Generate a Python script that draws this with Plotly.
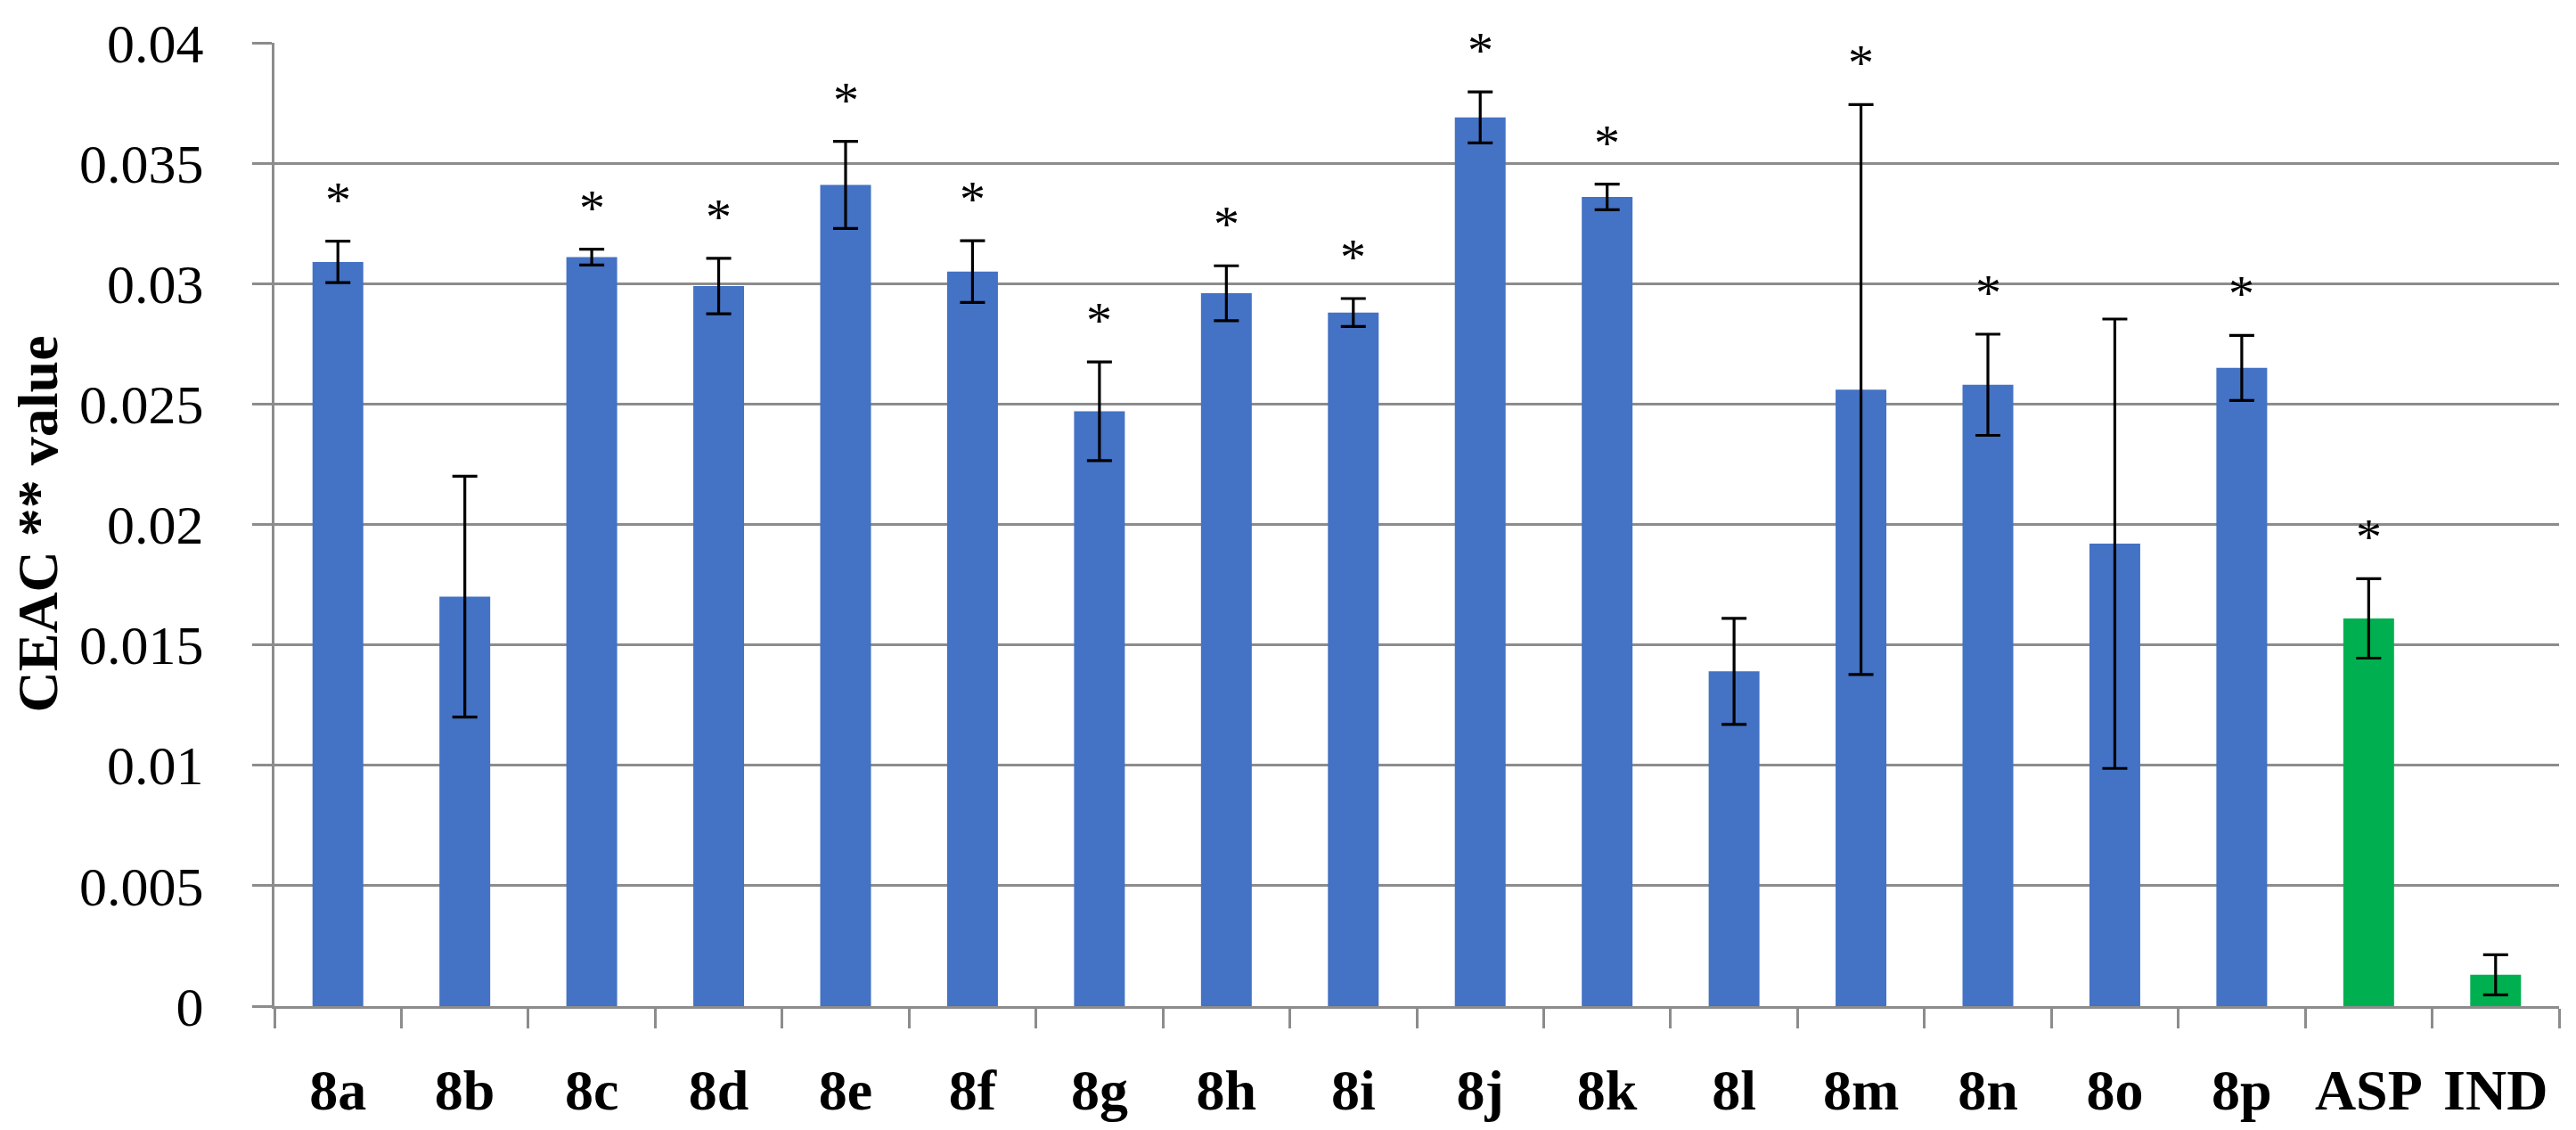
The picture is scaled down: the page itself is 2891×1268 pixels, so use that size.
import plotly.graph_objects as go

categories = ["8a", "8b", "8c", "8d", "8e", "8f", "8g", "8h", "8i", "8j",
              "8k", "8l", "8m", "8n", "8o", "8p", "ASP", "IND"]
values = [0.0309, 0.0170, 0.0311, 0.0299, 0.0341, 0.0305, 0.0247, 0.0296, 0.0288,
          0.0369, 0.0336, 0.0139, 0.0256, 0.0258, 0.0192, 0.0265, 0.0161, 0.0013]
errors = [0.00086, 0.0050, 0.00033, 0.00115, 0.00181, 0.00128, 0.00205, 0.00114, 0.00058,
          0.00106, 0.00053, 0.0022, 0.01183, 0.0021, 0.00933, 0.00135, 0.00165, 0.00083]
significant = [True, False, True, True, True, True, True, True, True,
               True, True, False, True, True, False, True, True, False]
group = ["compound"] * 16 + ["reference"] * 2
colors_by_group = {"compound": "#4472C4", "reference": "#00B050"}

ytick_vals = [0, 0.005, 0.01, 0.015, 0.02, 0.025, 0.03, 0.035, 0.04]
ytick_text = ["0", "0.005", "0.01", "0.015", "0.02", "0.025", "0.03", "0.035", "0.04"]
y_title = "CEAC ** value"

# page body has a default 8px margin, so the figure is offset by 8px
W, H = 2883, 1260
L, R, T, B = 300, 19, 40, 139

fig = go.Figure()
fig.add_trace(go.Bar(
    x=categories, y=values,
    marker=dict(color=[colors_by_group[g] for g in group], line=dict(width=0)),
    error_y=dict(type="data", array=errors, visible=True, color="black",
                 thickness=3.2, width=14),
    width=0.4,
))

for c, v, e, s in zip(categories, values, errors, significant):
    if s:
        fig.add_annotation(x=c, y=v + e, text="*", showarrow=False,
                           xanchor="center", yanchor="bottom", yshift=12,
                           font=dict(family="Liberation Serif", size=58, color="black"))

pw = W - L - R
fig.add_annotation(xref="paper", yref="paper", x=(34 - L) / pw, y=0.5,
                   text="<b>" + y_title + "</b>", textangle=-90, showarrow=False,
                   xanchor="center", yanchor="middle",
                   font=dict(family="Liberation Serif", size=64, color="black"))

grid_color = "#8C8C8C"
fig.update_layout(
    width=W, height=H,
    margin=dict(l=L, r=R, t=T, b=B, pad=0),
    paper_bgcolor="white", plot_bgcolor="white",
    showlegend=False,
    font=dict(family="Liberation Serif", color="black"),
)
fig.update_xaxes(
    type="category",
    range=[-0.5, len(categories) - 0.5],
    showline=True, linecolor=grid_color, linewidth=3,
    ticks="outside", tickson="boundaries", ticklen=22, tickwidth=2.5, tickcolor=grid_color,
    showgrid=False, automargin=False,
    tickfont=dict(family="Liberation Serif", size=64, color="black", weight="bold"),
    ticklabelstandoff=36,
)
fig.update_yaxes(
    range=[0, 0.04],
    tickvals=ytick_vals, ticktext=ytick_text,
    showline=True, linecolor=grid_color, linewidth=3,
    showgrid=True, gridcolor=grid_color, gridwidth=2.5,
    ticks="outside", ticklen=22, tickwidth=2.5, tickcolor=grid_color,
    tickfont=dict(family="Liberation Serif", size=62, color="black"),
    ticklabelstandoff=42, automargin=False,
    zeroline=False,
)

fig.write_html("out.html")
